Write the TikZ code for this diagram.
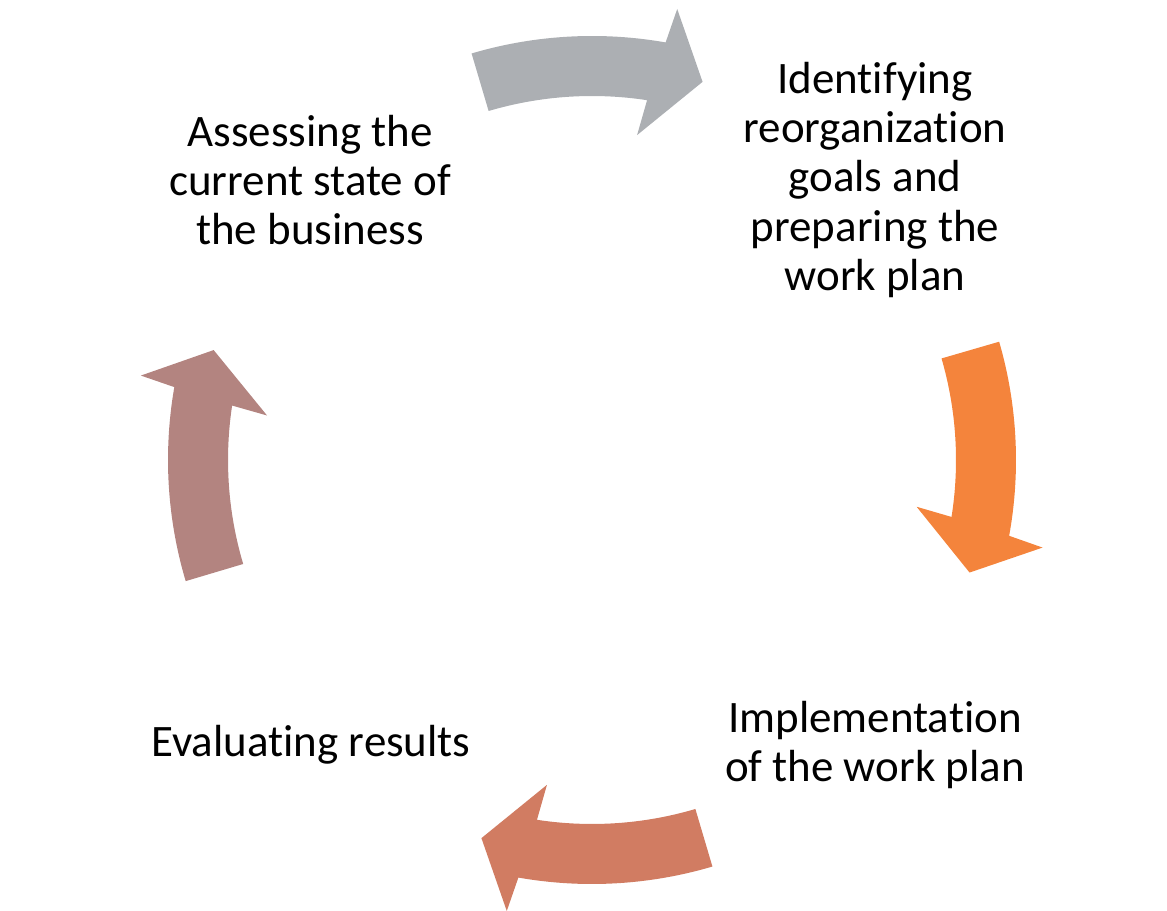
\documentclass[tikz,border=0pt]{standalone}
\usepackage{fontspec}
\setmainfont{Carlito}[Ligatures=NoCommon]
\usepackage{tikz}

\definecolor{arrowgrey}{RGB}{172,175,179}
\definecolor{arroworange}{RGB}{244,132,60}
\definecolor{arrowsalmon}{RGB}{209,124,98}
\definecolor{arrowmauve}{RGB}{179,132,128}

\begin{document}
\begin{tikzpicture}[x=0.02cm,y=0.02cm,
    steptext/.style={align=center, font=\fontsize{25.6}{27.9}\selectfont}]
\useasboundingbox (0,0) rectangle (1167,-911);

% the four stages
\node[steptext] (assess) at (310,-180) {Assessing the\\current state of\\the business};
\node[steptext] (goals) at (875,-180) {Identifying\\reorganization\\goals and\\preparing the\\work plan};
\node[steptext] (implement) at (875,-745) {Implementation\\of the work plan};
\node[steptext] (evaluate) at (311,-745) {Evaluating results};

% curved arrows round the cycle, clockwise
\begin{scope}[shift={(592,-460)}]
\foreach \t/\c in {106.5/arrowgrey, 16.2/arroworange, -73.5/arrowsalmon, 196.6/arrowmauve}
  \fill[\c] (\t:424) arc[start angle=\t, end angle=\t-26.5, radius=424]
    -- ({\t-27.2}:459) -- ({\t-32.8}:394) -- ({\t-24.4}:328) -- ({\t-25.2}:364)
    arc[start angle=\t-25.2, end angle=\t, radius=364] -- cycle;
\end{scope}
\end{tikzpicture}
\end{document}
